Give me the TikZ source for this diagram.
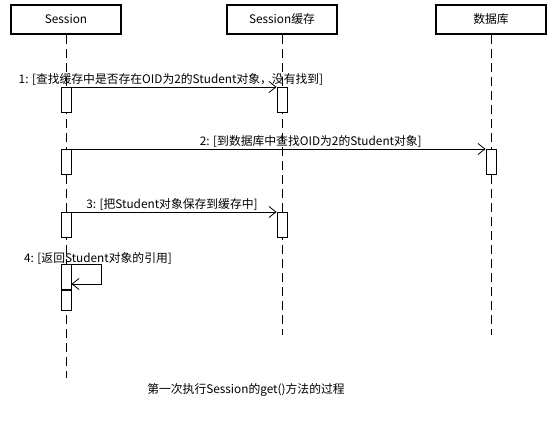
\documentclass[tikz,border=0pt]{standalone}
\usepackage{fontspec}
\setmainfont{Noto Sans CJK SC}
\usetikzlibrary{arrows.meta,positioning}
\newcommand{\msgfont}{\fontsize{11.8}{13}\selectfont}
\tikzset{
  headbox/.style={
    rectangle, draw, line width=1.6pt, minimum width=110pt,
    minimum height=29pt, inner sep=2pt, font=\msgfont
  },
  lifeline/.style={dash pattern=on 9pt off 5pt, line width=0.8pt},
  actbar/.style={
    rectangle, draw, fill=white, line width=0.8pt,
    minimum width=10pt, minimum height=25pt, inner sep=0pt
  },
  msgarrow/.style={line width=0.8pt, -{Straight Barb[length=7pt,width=11pt,line width=0.8pt]}},
  msglabel/.style={font=\msgfont, inner sep=1.5pt},
}

\begin{document}
\begin{tikzpicture}[x=1pt, y=-1pt]

  % ── Frame ──
  \useasboundingbox[fill=white] (0,0) rectangle (556,420);

  % ── Objects ──
  \node[headbox] (session) at (66,19.5)  {Session};
  \node[headbox] (cache)   at (282,19.5) {Session缓存};
  \node[headbox] (db)      at (491,19.5) {数据库};

  % ── Lifelines ──
  \coordinate (sessionend) at (66,378);
  \coordinate (cacheend)   at (282,335);
  \coordinate (dbend)      at (491,335);
  \draw[lifeline] (session) -- (sessionend);
  \draw[lifeline] (cache)   -- (cacheend);
  \draw[lifeline] (db)      -- (dbend);

  % ── Activations ──
  \node[actbar, anchor=north] (s1) at (66,87)  {};
  \node[actbar, anchor=north] (c1) at (282,87) {};
  \node[actbar, anchor=north] (s2) at (66,149) {};
  \node[actbar, anchor=north] (d2) at (491,149) {};
  \node[actbar, anchor=north] (s3) at (66,212) {};
  \node[actbar, anchor=north] (c3) at (282,212) {};
  \node[actbar, anchor=north] (s4) at (66,264) {};
  \node[actbar, minimum height=20pt, below=0pt of s4] (s4b) {};

  % ── Messages ──
  \draw[msgarrow] (s1.north east) --
    node[msglabel, above, pos=0.485] {1: [查找缓存中是否存在OID为2的Student对象，没有找到]} (c1.north west);
  \draw[msgarrow] (s2.north east) --
    node[msglabel, above, pos=0.578] {2: [到数据库中查找OID为2的Student对象]} (d2.north west);
  \draw[msgarrow] (s3.north east) --
    node[msglabel, above, pos=0.49] {3: [把Student对象保存到缓存中]} (c3.north west);
  \coordinate (loop) at (101,284);
  \draw[msgarrow] (s4.north east) -| (loop) -- (s4.east |- loop);
  \node[msglabel, anchor=base] (m4) at (98,262) {4: [返回Student对象的引用]};

  % ── Caption ──
  \node[msglabel] (caption) at (246,390) {第一次执行Session的get()方法的过程};

\end{tikzpicture}
\end{document}
